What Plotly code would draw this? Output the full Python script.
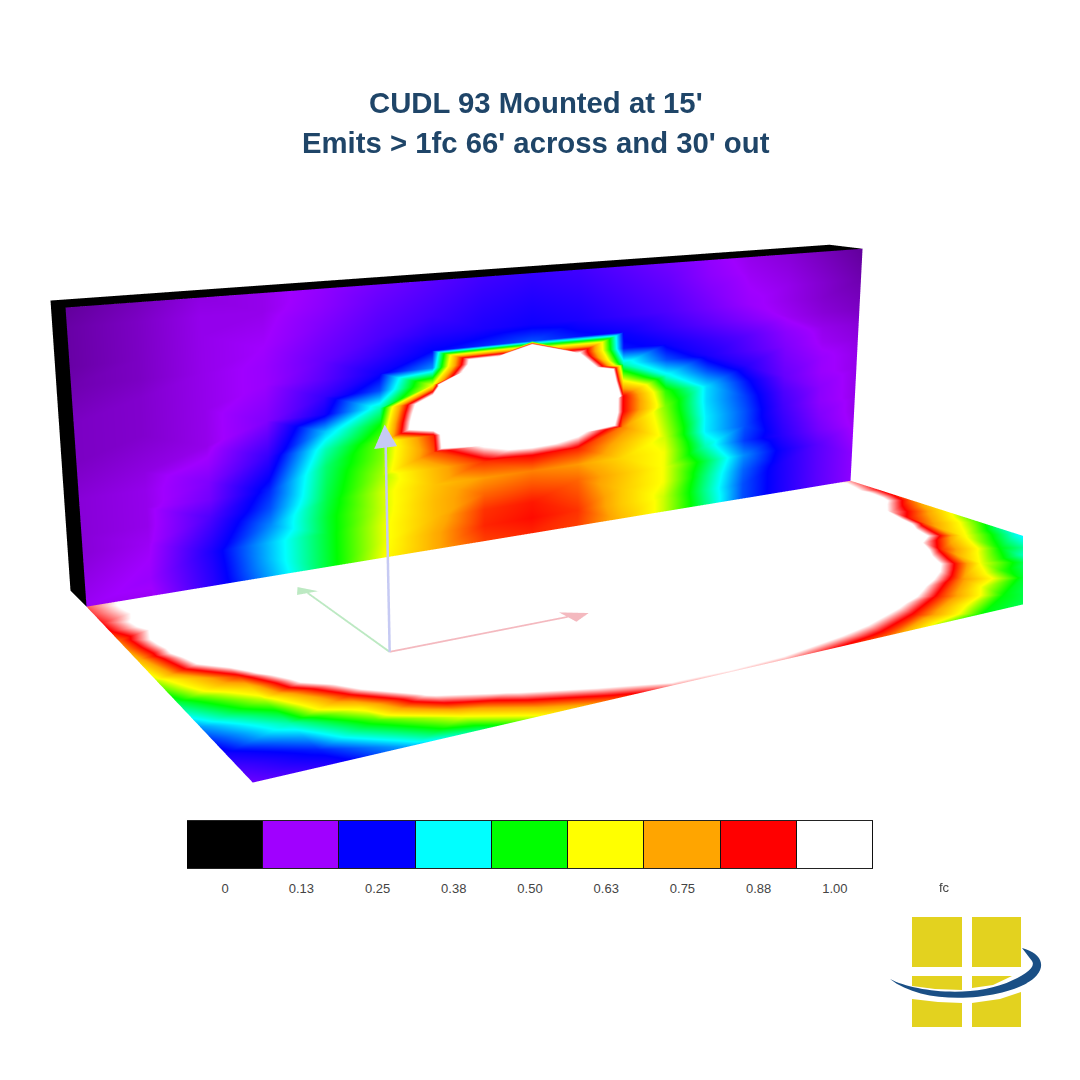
import numpy as np
import plotly.graph_objects as go

TITLE_1 = "CUDL 93 Mounted at 15'"
TITLE_2 = "Emits > 1fc 66' across and 30' out"
UNIT = "fc"
levels = [0, .125, .25, .375, .5, .625, .75, .875, 1.0]
level_labels = ['0', '0.13', '0.25', '0.38', '0.50', '0.63', '0.75', '0.88', '1.00']
level_colors = ['#000000', '#a000ff', '#0000ff', '#00ffff', '#00ff00', '#ffff00', '#ffa500', '#ff0000', '#ffffff']

# Illuminance on the wall (fc); rows bottom to top, columns left to right
wall_rows = [
    [.13, .13, .23, .35, .48, .62, .74, .83, .85, .83, .72, .6, .45, .3, .24, .19, .15],
    [.125, .14, .235, .36, .48, .61, .74, .85, .87, .84, .7, .6, .44, .3, .24, .19, .15],
    [.12, .135, .24, .36, .48, .61, .72, .84, .86, .82, .7, .62, .45, .31, .24, .19, .15],
    [.115, .13, .22, .33, .48, .6, .72, .8, .82, .8, .71, .62, .47, .33, .25, .19, .14],
    [.115, .125, .2, .3, .47, .6, .71, .76, .78, .76, .68, .62, .42, .29, .23, .17, .13],
    [.115, .125, .17, .28, .46, .58, .72, .84, .88, .85, .72, .6, .38, .3, .22, .16, .125],
    [.115, .125, .16, .25, .45, .56, .82, 1.02, 1.15, 1.05, .78, .58, .38, .3, .21, .15, .125],
    [.11, .12, .14, .22, .42, .55, .85, 2, 3, 2, .88, .56, .37, .29, .2, .15, .125],
    [.105, .115, .125, .19, .36, .5, 1.4, 3, 4, 3, .88, .52, .37, .27, .18, .14, .125],
    [.105, .11, .125, .16, .25, .42, 1.3, 4, 4, 3, .62, .4, .3, .23, .17, .14, .125],
    [.105, .11, .125, .15, .22, .3, .62, 4, 4, 1.4, .42, .3, .24, .2, .16, .13, .12],
    [.1, .11, .125, .14, .19, .25, .33, 1.3, 4, 1.02, .27, .25, .22, .19, .15, .125, .115],
    [.095, .105, .125, .14, .18, .22, .26, .28, .3, .27, .25, .22, .19, .16, .13, .115, .105],
    [.09, .105, .125, .135, .17, .2, .23, .24, .25, .24, .22, .2, .17, .14, .125, .11, .1],
    [.09, .105, .125, .13, .16, .19, .21, .23, .24, .23, .21, .19, .16, .135, .125, .11, .095],
    [.09, .105, .125, .125, .15, .18, .2, .22, .23, .22, .2, .18, .15, .13, .12, .105, .09],
    [.085, .1, .12, .125, .145, .17, .19, .21, .22, .21, .19, .17, .145, .125, .115, .1, .085],
]
# Illuminance on the floor (fc); one list per column left to right, wall edge to front edge
floor_cols = [
    [.92, .91, .89, .87, .80, .77, .72, .66, .60, .54, .47, .40, .33, .28, .24, .20, .17],
    [1.10, 1.12, 1.15, 1.2, 1.25, 1.3, 1.3, 1.2, 1.02, .84, .70, .60, .50, .42, .34, .27, .23],
    [1.35, 1.4, 1.45, 1.5, 1.55, 1.6, 1.6, 1.6, 1.6, 1.45, 1.22, 1.0, .85, .66, .54, .44, .34],
    [1.5, 1.6, 1.7, 1.8, 1.8, 1.8, 1.8, 1.8, 1.8, 1.8, 1.65, 1.45, 1.25, 1.05, .85, .62, .45],
    [1.6, 1.7, 1.8, 1.8, 1.8, 1.8, 1.8, 1.8, 1.8, 1.8, 1.8, 1.65, 1.45, 1.25, 1.05, .85, .65],
    [1.7, 1.8, 1.8, 1.8, 1.8, 1.8, 1.8, 1.8, 1.8, 1.8, 1.8, 1.8, 1.6, 1.42, 1.22, 1.02, .82],
    [1.8, 1.8, 1.8, 1.8, 1.8, 1.8, 1.8, 1.8, 1.8, 1.8, 1.8, 1.8, 1.8, 1.6, 1.4, 1.2, .96],
    [1.8, 1.8, 1.8, 1.8, 1.8, 1.8, 1.8, 1.8, 1.8, 1.8, 1.8, 1.8, 1.8, 1.6, 1.4, 1.2, .98],
    [1.8, 1.8, 1.8, 1.8, 1.8, 1.8, 1.8, 1.8, 1.8, 1.8, 1.8, 1.8, 1.8, 1.6, 1.4, 1.18, .96],
    [1.8, 1.8, 1.8, 1.8, 1.8, 1.8, 1.8, 1.8, 1.8, 1.8, 1.8, 1.9, 1.7, 1.5, 1.3, 1.1, .88],
    [1.8, 1.8, 1.8, 1.8, 1.8, 1.8, 1.8, 1.8, 1.8, 1.8, 1.8, 1.8, 1.6, 1.4, 1.2, 1.0, .8],
    [1.8, 1.8, 1.8, 1.8, 1.8, 1.8, 1.8, 1.8, 1.8, 1.8, 1.9, 1.7, 1.5, 1.3, 1.05, .85, .6],
    [1.8, 1.8, 1.8, 1.8, 1.8, 1.8, 1.8, 1.8, 1.8, 1.9, 1.7, 1.5, 1.3, 1.05, .85, .66, .5],
    [1.7, 1.8, 1.8, 1.8, 1.9, 1.9, 1.9, 1.9, 1.8, 1.6, 1.4, 1.2, 1.0, .78, .62, .5, .46],
    [1.3, 1.4, 1.5, 1.6, 1.7, 1.7, 1.6, 1.45, 1.25, 1.0, .84, .72, .62, .53, .48, .43, .4],
    [1.1, 1.2, 1.25, 1.25, 1.1, .97, .87, .8, .72, .65, .57, .5, .42, .4, .38, .36, .35],
    [.95, .92, .88, .86, .8, .72, .66, .58, .53, .44, .38, .35, .33, .32, .3, .3, .3],
]

FIG = 1064  # page adds 8 px of body margin on each side
W, L, H, T = 80.0, 35.361, 23.511, 5.141
K = 1 / W
PAD = 6
RNG = np.array([[-PAD, W + PAD], [-PAD, L + T + PAD], [-PAD, H + PAD]])
EXT = RNG[:, 1] - RNG[:, 0]

# Room corners in scene units
F = [0.582, 0.907, 0.0]
E = [77.028, -2.035, 0.0]
Df = [-0.448, 35.755, 0.0]
Cf = [79.661, 34.601, 0.0]
Dw = [-0.526, 35.361, 0.134]
Cw = [80.441, 35.361, -0.262]
Aw = [0.169, 35.361, 23.046]
Bw = [79.696, 35.361, 24.357]
bA = [0.177, 40.502, 23.086]
bB = [80.058, 40.502, 24.469]
bD = [-0.622, 40.502, -0.043]
# Axis triad
O = [15.598, 14.784, 0.05]
AXES = [
    dict(base=[30.247, 14.33, 0.05], tip=[32.105, 14.247, 0.05], side=[0, 1, 0], half=1.2, color='#f4b9bf', width=4),
    dict(base=[15.471, 29.771, 0.05], tip=[15.34, 31.596, 0.05], side=[1, 0, 0], half=0.9, color='#bce9c2', width=4),
    dict(base=[15.794, 14.784, 14.741], tip=[15.774, 14.784, 16.316], side=[1, 0, 0], half=0.85, color='#c6caf3', width=5),
]

colorscale = [[a, b] for a, b in zip(levels, level_colors)]
flat = dict(ambient=1, diffuse=0, specular=0, roughness=1, fresnel=0)


def grid(p00, p10, p11, p01, n=17):
    t = np.linspace(0, 1, n)
    U, V = np.meshgrid(t, t)
    return [(1 - U) * (1 - V) * p00[a] + U * (1 - V) * p10[a] + U * V * p11[a] + (1 - U) * V * p01[a] for a in range(3)]


def add_plane(fig, corners, values, top):
    # Everything from 1 fc up to the plane's maximum stays white
    scale = [[a / top, b] for a, b in zip(levels, level_colors)] + [[1, '#ffffff']]
    g = grid(*corners)
    n = values.shape[0]
    I, J, K_ = [], [], []
    for r in range(n - 1):
        for c in range(n - 1):
            a, b, d, e = r * n + c, r * n + c + 1, (r + 1) * n + c, (r + 1) * n + c + 1
            if (r + c) % 2 == 0:
                I += [a, a]; J += [b, e]; K_ += [e, d]
            else:
                I += [a, b]; J += [b, e]; K_ += [d, d]
    fig.add_mesh3d(x=g[0].ravel(), y=g[1].ravel(), z=g[2].ravel(), i=I, j=J, k=K_, intensity=values.ravel(),
                   intensitymode='vertex', cmin=0, cmax=top, colorscale=scale, showscale=False,
                   lighting=flat, flatshading=False, hoverinfo='skip')


fig = go.Figure()
add_plane(fig, (Dw, Cw, Bw, Aw), np.array(wall_rows), 4.05)
add_plane(fig, (Df, Cf, E, F), np.array(floor_cols).T, 2.0)
for q in ((Aw, Bw, bB, bA), (Dw, Aw, bA, bD)):
    g = grid(*q, n=2)
    fig.add_surface(x=g[0], y=g[1], z=g[2], surfacecolor=np.zeros((2, 2)), cmin=0, cmax=1,
                    colorscale=[[0, '#000'], [1, '#000']], showscale=False, lighting=flat, hoverinfo='skip')
for a in AXES:
    b, t, s = np.array(a['base']), np.array(a['tip']), np.array(a['side'], float) * a['half']
    fig.add_scatter3d(x=[O[0], b[0]], y=[O[1], b[1]], z=[O[2], b[2]], mode='lines',
                      line=dict(color=a['color'], width=a['width']), hoverinfo='skip', showlegend=False)
    v = np.array([b - s, b + s, t])
    fig.add_mesh3d(x=v[:, 0], y=v[:, 1], z=v[:, 2], i=[0], j=[1], k=[2], color=a['color'], lighting=flat, hoverinfo='skip')

fig.add_heatmap(z=[levels], x=list(range(9)), y=[0], colorscale=colorscale, zmin=0, zmax=1, showscale=False,
                xgap=1, hoverinfo='skip')


def px(x):
    return (x - 8) / FIG


def py(y):
    return 1 - (y - 8) / FIG


def path(cmds):
    s = ''
    for cmd, *v in cmds:
        s += cmd + ' ' + ' '.join(f"{px(v[i]):.5f},{py(v[i + 1]):.5f}" for i in range(0, len(v), 2)) + ' '
    return s + 'Z'


LOGO_YELLOW, LOGO_BLUE = '#e3d21f', '#1a4f85'
polys = [[(912, 917), (962, 917), (962, 967), (912, 967)],
         [(972, 917), (1021, 917), (1021, 967), (972, 967)],
         [(912, 976), (962, 976), (962, 990), (935, 989), (912, 986)],
         [(972, 976), (1012, 976), (993, 985), (972, 988)],
         [(912, 999), (938, 1002), (962, 1003), (962, 1027), (912, 1027)],
         [(972, 1003), (1000, 999), (1021, 992), (1021, 1027), (972, 1027)]]
shapes = [dict(type='path', xref='paper', yref='paper', path=path([('M', *q[0])] + [('L', *a) for a in q[1:]]),
               fillcolor=LOGO_YELLOW, line_width=0) for q in polys]
shapes.append(dict(type='path', xref='paper', yref='paper', fillcolor=LOGO_BLUE, line_width=0, path=path([
    ('M', 890, 979), ('C', 915, 992, 975, 999, 1013, 980), ('C', 1026, 974, 1036, 967, 1032, 961), ('L', 1022, 948),
    ('C', 1040, 953, 1046, 964, 1037, 975), ('C', 1020, 997, 930, 1011, 890, 979)])))

title_font = dict(size=29.3, family='Liberation Sans', color='#1f4568')
ann = [dict(xref='paper', yref='paper', x=px(536), y=py(102), xanchor='center', yanchor='middle', text=f"<b>{TITLE_1}</b>", showarrow=False, font=title_font),
       dict(xref='paper', yref='paper', x=px(536), y=py(143), xanchor='center', yanchor='middle', text=f"<b>{TITLE_2}</b>", showarrow=False, font=title_font),
       dict(xref='paper', yref='paper', x=px(944), y=py(887), xanchor='center', yanchor='middle', text=UNIT, showarrow=False,
            font=dict(size=13, family='Liberation Sans', color='#444'))]

fig.update_layout(
    width=FIG, height=FIG, margin=dict(l=0, r=0, t=0, b=0), paper_bgcolor='white', plot_bgcolor='#111', showlegend=False,
    scene=dict(domain=dict(x=[0, 1015 / FIG], y=[0, 1]), aspectmode='manual',
               aspectratio=dict(x=EXT[0] * K, y=EXT[1] * K, z=EXT[2] * K),
               xaxis=dict(range=RNG[0].tolist(), visible=False), yaxis=dict(range=RNG[1].tolist(), visible=False),
               zaxis=dict(range=RNG[2].tolist(), visible=False),
               camera=dict(eye=dict(x=-0.749, y=-1.033, z=0.271), center=dict(x=-0.137, y=-0.003, z=-0.086),
                           up=dict(x=0.14787, y=0.2443, z=0.95836))),
    xaxis=dict(domain=[px(187), px(873)], range=[-.5, 8.5], tickvals=list(range(9)), ticktext=level_labels,
               ticks='outside', ticklen=8, tickcolor='rgba(0,0,0,0)',
               tickfont=dict(size=13, family='Liberation Sans', color='#444'), showline=True, mirror=True,
               linecolor='#222', linewidth=1, showgrid=False, zeroline=False),
    yaxis=dict(domain=[py(868), py(821)], range=[-.5, .5], visible=False),
    shapes=shapes, annotations=ann)
fig.write_html("out.html")
